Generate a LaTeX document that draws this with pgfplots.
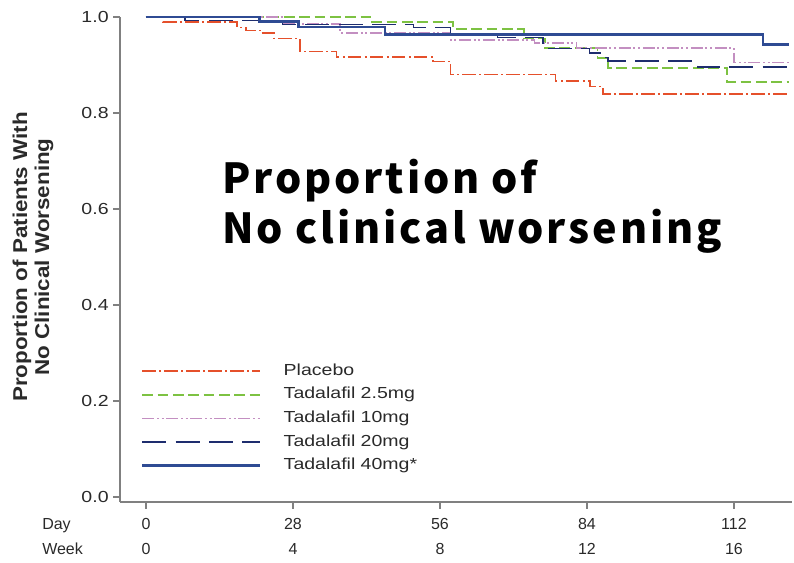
\documentclass[border=0pt]{standalone}
\usepackage{fontspec}
\setmainfont{Liberation Sans}
\newfontfamily\wide{Liberation Sans}[FakeStretch=1.22]
\newfontfamily\ylab{Liberation Sans}[FakeStretch=1.12]
\newfontfamily\cjk{Noto Sans CJK JP}[LetterSpace=7]
\usepackage{pgfplots}
\pgfplotsset{compat=1.18}
\definecolor{cplac}{HTML}{E5502B}
\definecolor{cgreen}{HTML}{7DC242}
\definecolor{cpink}{HTML}{C38FC1}
\definecolor{cnavy}{HTML}{1E2D6E}
\definecolor{cblue}{HTML}{2F4B93}
\definecolor{axgray}{HTML}{808080}
\definecolor{txt}{HTML}{2A2A2A}
\begin{document}
\begin{tikzpicture}
\useasboundingbox (0,0) rectangle (595.5pt,422.25pt);
\begin{axis}[
  at={(90pt,45.75pt)}, anchor=south west,
  scale only axis, width=504pt, height=363.75pt,
  xmin=-4.95, xmax=123.05, ymin=-0.0104, ymax=1.0,
  axis x line=bottom, axis y line=left,
  axis line style={axgray, line width=1.3pt, -},
  tick style={axgray, line width=0.9pt},
  tick align=outside, major tick length=5pt,
  clip=false,
  xtick={0,28,56,84,112},
  xticklabels={{0\\0},{28\\4},{56\\8},{84\\12},{112\\16}},
  x tick label style={align=center, font=\fontsize{12}{18.75}\selectfont, text=txt, yshift=-3.5pt},
  ytick={0,0.2,0.4,0.6,0.8,1},
  y tick label style={font=\wide\fontsize{12}{14}\selectfont, text=txt,
     /pgf/number format/.cd, fixed, fixed zerofill, precision=1},
  /pgf/number format/assume math mode=true,
  legend image code/.code={\draw[#1] plot coordinates {(0pt,0pt) (88pt,0pt)};},
  legend cell align=left,
  legend style={draw=none, fill=none, at={(0.025,0.292)}, anchor=north west,
     font=\wide\fontsize{12}{13}\selectfont, text=txt, row sep=5.7pt,
     nodes={inner xsep=17pt, inner ysep=1pt, text height=8pt, text depth=2pt}},
]
\addplot[const plot, cplac, line width=1.3pt, dash pattern=on 10pt off 2.5pt on 1.5pt off 2.5pt] coordinates {
(0,1) (3.3,0.990) (17.3,0.978) (19,0.972) (22,0.966) (24.4,0.955) (29.3,0.928) (36.3,0.917) (54.7,0.907) (58,0.880) (78,0.867) (84.6,0.855) (87,0.840) (122.5,0.840)};
\addlegendentry{Placebo}
\addplot[const plot, cgreen, line width=1.3pt, dash pattern=on 8pt off 3.5pt] coordinates {
(0,1) (42.7,0.990) (58.5,0.975) (72,0.955) (76,0.935) (86,0.915) (88,0.894) (110.7,0.865) (122.5,0.865)};
\addlegendentry{Tadalafil 2.5mg}
\addplot[const plot, cpink, line width=1.3pt, dash pattern=on 9pt off 2pt on 1.5pt off 2pt on 1.5pt off 2pt] coordinates {
(0,1) (26,0.985) (37,0.967) (58,0.952) (74,0.946) (82,0.935) (112,0.905) (122.5,0.905)};
\addlegendentry{Tadalafil 10mg}
\addplot[const plot, cnavy, line width=1pt, dash pattern=on 18pt off 7pt] coordinates {
(0,1) (7.4,0.992) (26,0.985) (51,0.978) (58,0.966) (67,0.957) (75.6,0.935) (84.5,0.925) (86.5,0.915) (88,0.908) (105,0.896) (122.5,0.896)};
\addlegendentry{Tadalafil 20mg}
\addplot[const plot, cblue, line width=2pt] coordinates {
(0,1) (21.6,0.990) (29,0.979) (45.5,0.964) (117.5,0.942) (122.5,0.942)};
\addlegendentry{Tadalafil 40mg*}
\end{axis}
\node[rotate=90, align=center, inner sep=0, text=txt, font=\ylab\bfseries\fontsize{15}{16.5}\selectfont] at (24.75pt,229.5pt) {Proportion of Patients With\\No Clinical Worsening};
\node[anchor=north west, align=left, inner sep=0, text=txt, font=\fontsize{12}{18.75}\selectfont] at (31.5pt,33.5pt) {Day\\Week};
\node[anchor=north west, align=left, inner sep=0, font=\cjk\bfseries\fontsize{31}{37.5}\selectfont] at (166.5pt,303pt) {Proportion of\\No clinical worsening};
\end{tikzpicture}
\end{document}
